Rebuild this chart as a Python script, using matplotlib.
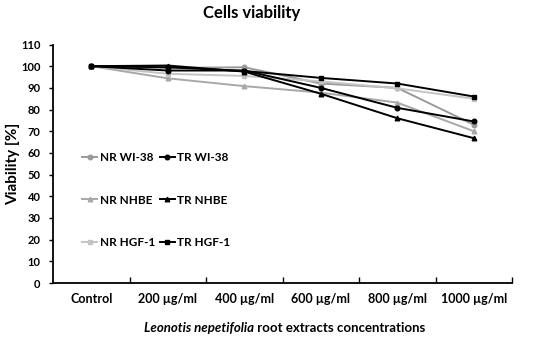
import matplotlib
matplotlib.use("Agg")
import matplotlib.pyplot as plt

plt.rcParams['font.family'] = ['Lato', 'DejaVu Sans']

categories = ["Control", "200 µg/ml", "400 µg/ml", "600 µg/ml", "800 µg/ml", "1000 µg/ml"]
nr_wi38 = [100, 99.2, 99.5, 92.0, 90.0, 73.0]
tr_wi38 = [100, 98.0, 98.0, 90.0, 80.8, 74.5]
nr_nhbe = [100, 94.4, 90.8, 87.8, 83.2, 70.0]
tr_nhbe = [100, 100.3, 97.5, 87.3, 76.0, 66.8]
nr_hgf1 = [100, 96.5, 95.5, 93.0, 89.8, 85.0]
tr_hgf1 = [100, 99.5, 97.8, 94.6, 92.0, 86.0]

fig = plt.figure(figsize=(5.5, 3.4), dpi=100)
ax = fig.add_axes([53/550, 1-283/340, (512-53)/550, (283-44.5)/340])

x = list(range(len(categories)))
styles = [
    ("NR WI-38", nr_wi38, "#9a9a9a", "o"),
    ("NR NHBE", nr_nhbe, "#a8a8a8", "^"),
    ("NR HGF-1", nr_hgf1, "#c4c4c4", "s"),
    ("TR WI-38", tr_wi38, "#000000", "o"),
    ("TR NHBE", tr_nhbe, "#000000", "^"),
    ("TR HGF-1", tr_hgf1, "#000000", "s"),
]
handles = []
for lab, vals, col, mk in styles:
    h, = ax.plot(x, vals, color=col, marker=mk, markersize=3.3, linewidth=1.4, label=lab)
    handles.append(h)

ax.set_xlim(-0.5, 5.5)
ax.set_ylim(0, 110)
ax.set_yticks(range(0, 111, 10))
ax.set_xticks(x)
ax.set_xticklabels(categories)
ax.set_xticks([i + 0.5 for i in range(len(categories))], minor=True)
ax.tick_params(axis='x', which='major', length=0, pad=7, labelsize=9)
ax.tick_params(axis='x', which='minor', direction='in', length=4, width=1)
ax.tick_params(axis='y', direction='out', length=3, width=1, labelsize=8, pad=6)
for lbl in ax.get_xticklabels() + ax.get_yticklabels():
    lbl.set_fontweight('bold')
for s in ['top', 'right']:
    ax.spines[s].set_visible(False)
for s in ['left', 'bottom']:
    ax.spines[s].set_linewidth(1.3)
    ax.spines[s].set_color('black')

ax.set_ylabel("Viability [%]", fontsize=11, fontweight='bold', labelpad=1)

leg = ax.legend(handles=handles, ncol=2, loc='upper left', bbox_to_anchor=(0.04, 0.595),
                frameon=False, handlelength=1.3, handletextpad=0.2, columnspacing=0.4,
                labelspacing=2.7, prop={'weight': 'bold', 'size': 8.5})

fig.text(252/550, 1-13/340, "Cells viability", ha='center', va='center', fontsize=12, fontweight='bold')

# x label with italic part
t1 = fig.text(0, 1-328/340, "Leonotis nepetifolia", ha='left', va='center', fontsize=9.5,
              fontweight='bold', fontstyle='italic')
t2 = fig.text(0, 1-328/340, " root extracts concentrations", ha='left', va='center', fontsize=9.5,
              fontweight='bold')
fig.canvas.draw()
r = fig.canvas.get_renderer()
w1 = t1.get_window_extent(r).width
w2 = t2.get_window_extent(r).width
cx = 285
start = cx - (w1 + w2) / 2
t1.set_x(start / 550)
t2.set_x((start + w1) / 550)

fig.savefig("out.png", dpi=100)
